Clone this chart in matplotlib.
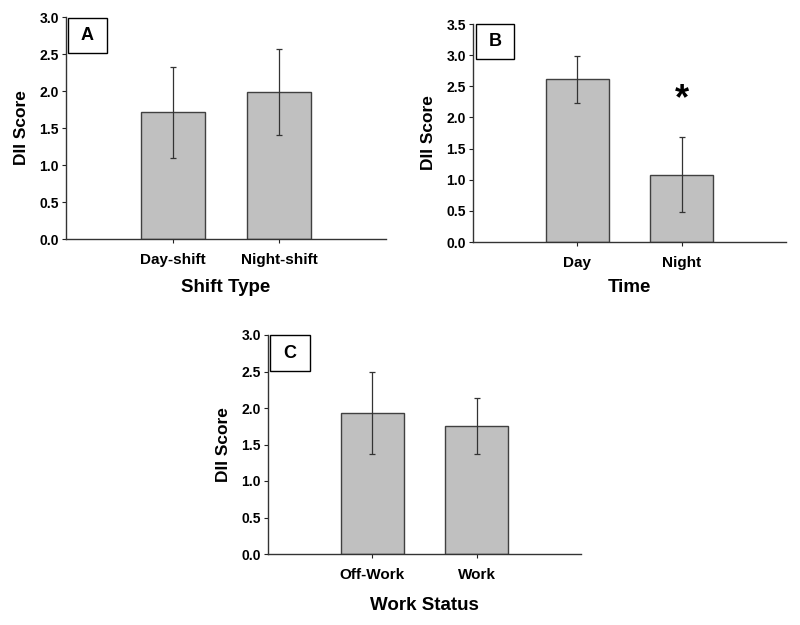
import matplotlib
matplotlib.use("Agg")
import matplotlib.pyplot as plt
from matplotlib.patches import Rectangle

plt.rcParams["font.family"] = ["Liberation Sans", "DejaVu Sans"]
plt.rcParams["font.weight"] = "bold"
plt.rcParams["axes.labelweight"] = "bold"

# panel A - shift type
shift_labels = ["Day-shift", "Night-shift"]
shift_means = [1.71, 1.98]
shift_lo = [1.09, 1.40]
shift_hi = [2.32, 2.57]

# panel B - time
time_labels = ["Day", "Night"]
time_means = [2.61, 1.08]
time_lo = [2.23, 0.48]
time_hi = [2.98, 1.68]
star_y = 2.28

# panel C - work status
work_labels = ["Off-Work", "Work"]
work_means = [1.93, 1.76]
work_lo = [1.37, 1.37]
work_hi = [2.49, 2.14]

W, H = 800, 625
fig = plt.figure(figsize=(W / 100, H / 100), dpi=100)


def px_axes(x0, x1, y0, y1):
    return fig.add_axes([x0 / W, 1 - y1 / H, (x1 - x0) / W, (y1 - y0) / H])


def panel(ax, letter, labels, means, lo, hi, ymax, xlabel, box, xl_off):
    xs = list(range(len(labels)))
    err = [[m - l for m, l in zip(means, lo)], [h - m for m, h in zip(means, hi)]]
    ax.bar(xs, means, width=0.6, color="#c0c0c0", edgecolor="#404040", linewidth=1.0, zorder=2)
    ax.errorbar(xs, means, yerr=err, fmt="none", ecolor="#333333", elinewidth=0.9,
                capsize=2.5, capthick=0.9, zorder=3)
    ax.set_xlim(-1, 2)
    ax.set_ylim(0, ymax)
    n = int(ymax / 0.5) + 1
    ax.set_yticks([i * 0.5 for i in range(n)])
    ax.set_yticklabels([f"{i * 0.5:.1f}" for i in range(n)])
    ax.set_xticks(xs)
    ax.set_xticklabels(labels, fontsize=11)
    for s in ("top", "right"):
        ax.spines[s].set_visible(False)
    for s in ("left", "bottom"):
        ax.spines[s].set_color("#333333")
        ax.spines[s].set_linewidth(1.0)
    ax.tick_params(axis="y", labelsize=10, length=3, width=0.8, pad=2, colors="#222222")
    ax.tick_params(axis="x", length=3, width=0.8, pad=7, colors="#222222")
    for t in ax.get_xticklabels() + ax.get_yticklabels():
        t.set_color("black")
    bb = ax.get_position()
    hpx = bb.height * H
    wpx = bb.width * W
    ax.set_ylabel("DII Score", fontsize=12.5)
    ax.yaxis.set_label_coords(-37 / wpx, 0.5)
    ax.set_xlabel(xlabel, fontsize=13.5)
    ax.xaxis.set_label_coords(0.5, -xl_off / hpx)
    ax.xaxis.label.set_va("center")
    bx0, by0, bw, bh = box
    ax.add_patch(Rectangle((bx0, by0), bw, bh, transform=ax.transAxes, facecolor="white",
                           edgecolor="black", linewidth=1.0, clip_on=False, zorder=4))
    ax.text(bx0 + bw / 2, by0 + bh / 2, letter, transform=ax.transAxes, ha="center",
            va="center", fontsize=13, zorder=5)


axA = px_axes(66, 386, 17, 239)
panel(axA, "A", shift_labels, shift_means, shift_lo, shift_hi, 3.0, "Shift Type",
      (0.006, 0.838, 0.122, 0.157), 48)

axB = px_axes(473, 786, 24, 242)
panel(axB, "B", time_labels, time_means, time_lo, time_hi, 3.5, "Time",
      (0.01, 0.84, 0.121, 0.16), 46)
axB.text(1, star_y, "*", ha="center", va="center", fontsize=26)

axC = px_axes(268, 581, 335, 554)
panel(axC, "C", work_labels, work_means, work_lo, work_hi, 3.0, "Work Status",
      (0.006, 0.836, 0.127, 0.163), 52)

fig.savefig("out.png", dpi=100)
